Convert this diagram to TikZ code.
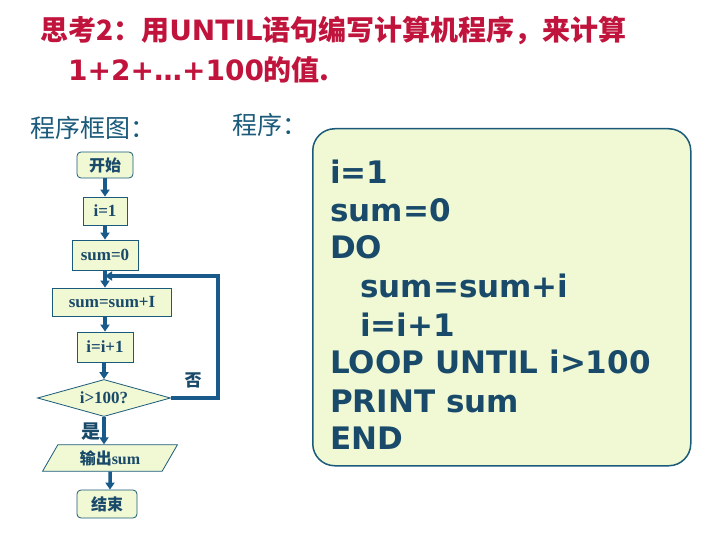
\documentclass[tikz,border=0pt]{standalone}
\usepackage{fontspec}
\setmainfont{Liberation Serif}
\newfontfamily\cjk{Noto Sans CJK SC}
\newfontfamily\dv{DejaVu Sans}
\usetikzlibrary{shapes.geometric,arrows.meta}
\definecolor{ttl}{HTML}{C0143C}
\definecolor{teal}{HTML}{1A5A7A}
\definecolor{prog}{HTML}{1A4A6A}
\definecolor{boxf}{HTML}{F0F8D4}
\definecolor{arr}{HTML}{1A5A8A}
\tikzset{
 fbox/.style={draw=teal,fill=boxf,line width=0.8pt,inner sep=0pt,font=\bfseries\fontsize{17}{17}\selectfont,text=prog},
 arrw/.style={draw=arr,line width=3.5pt,-{Triangle[length=7pt,width=9pt]}}
}
\begin{document}
\begin{tikzpicture}[x=1pt,y=-1pt]
\useasboundingbox (0,0) rectangle (720,540);
\fill[white] (0,0) rectangle (720,540);
\node[anchor=west,text=ttl,font=\cjk\bfseries\fontsize{28}{28}\selectfont,inner sep=0pt] (t1) at (40,31) {思考2：用\dv UNTIL\cjk 语句编写计算机程序，来计算};
\node[anchor=west,text=ttl,font=\cjk\bfseries\fontsize{28}{28}\selectfont,inner sep=0pt] (t2) at (68,70) {\dv 1+2+…+100\cjk 的值.};
\node[anchor=west,text=teal,font=\cjk\fontsize{25}{25}\selectfont,inner sep=0pt] (l1) at (30,128) {程序框图：};
\node[anchor=west,text=teal,font=\cjk\fontsize{25}{25}\selectfont,inner sep=0pt] (l2) at (232,125) {程序：};
\node[draw=teal,fill=boxf,line width=1.5pt,rounded corners=22pt,minimum width=378pt,minimum height=337pt,anchor=north west] (pb) at (312,128) {};
\begin{scope}[every node/.style={anchor=west,inner sep=0pt,text=prog,font=\dv\bfseries\fontsize{31}{31}\selectfont}]
\node (p1) at (330,172) {i=1};
\node (p2) at (330,210) {sum=0};
\node (p3) at (330,247) {DO};
\node (p4) at (360,286) {sum=sum+i};
\node (p5) at (360,325) {i=i+1};
\node (p6) at (330,362) {LOOP UNTIL i>100};
\node (p7) at (330,401) {PRINT sum};
\node (p8) at (330,438) {END};
\end{scope}
\node[fbox,rounded corners=4pt,minimum width=56pt,minimum height=26pt,font=\cjk\bfseries\fontsize{16}{16}\selectfont] (s) at (105,165) {开始};
\node[fbox,minimum width=44pt,minimum height=28pt] (a) at (105,211) {i=1};
\node[fbox,minimum width=66pt,minimum height=30pt] (b) at (105,255) {sum=0};
\node[fbox,minimum width=119pt,minimum height=28pt] (c) at (112,302) {sum=sum+I};
\node[fbox,minimum width=56pt,minimum height=30pt] (d) at (105,347) {i=i+1};
\node[fbox,diamond,aspect=3.6,minimum width=133pt,minimum height=37pt] (e) at (104,398) {i>100?};
\node[fbox,trapezium,trapezium left angle=60,trapezium right angle=120,minimum width=135pt,minimum height=25pt,font=\cjk\bfseries\fontsize{16}{16}\selectfont] (f) at (110,458) {输出\rmfamily\bfseries sum};
\node[fbox,rounded corners=4pt,minimum width=60pt,minimum height=28pt,font=\cjk\bfseries\fontsize{16}{16}\selectfont] (g) at (107,504) {结束};
\draw[arrw] (s) -- (a);
\draw[arrw] (a) -- (b);
\draw[arrw] (b) -- (b|-c.north);
\draw[arrw] (d.north|-c.south) -- (d);
\draw[arrw] (e.north|-d.south) -- (e);
\draw[arrw] (e) -- (e|-f.north);
\draw[arrw] (f) -- (f|-g.north);
\coordinate (r1) at (218,398);
\coordinate (r2) at (218,276);
\coordinate (r3) at (105,276);
\draw[arrw] (e.east) -- (r1) -- (r2) -- (r3);
\node[text=prog,font=\cjk\bfseries\fontsize{17}{17}\selectfont] (no) at (193,380) {否};
\node[text=prog,font=\cjk\bfseries\fontsize{19}{19}\selectfont] (yes) at (91,432) {是};
\end{tikzpicture}
\end{document}
